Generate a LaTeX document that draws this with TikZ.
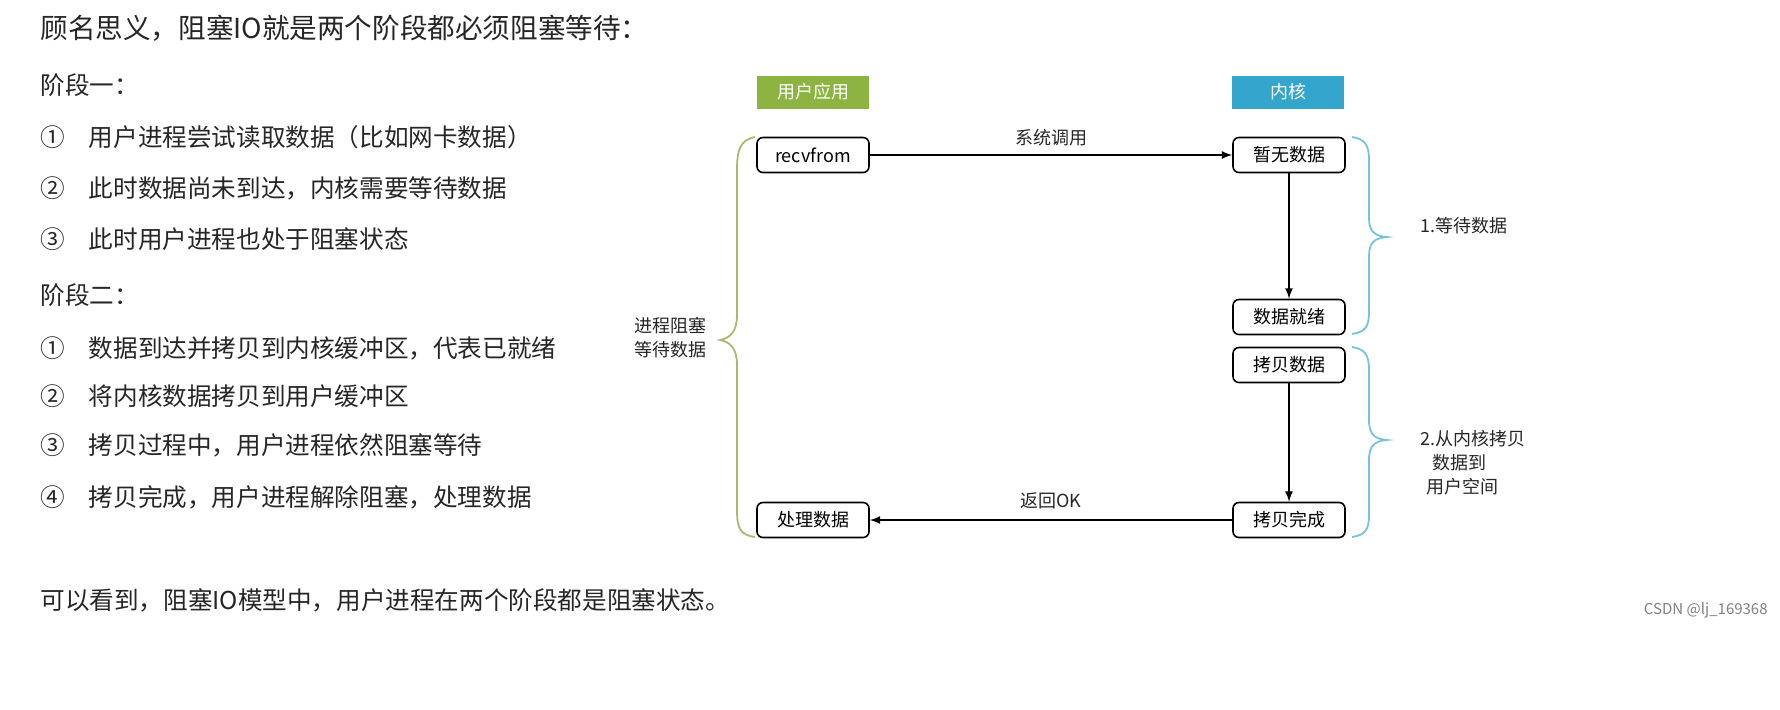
\documentclass[tikz,border=0pt]{standalone}
\usepackage{fontspec}
\setmainfont{Noto Sans CJK SC}
\begin{document}
\begin{tikzpicture}[x=0.5pt,y=-0.5pt,
 txt/.style={anchor=west,inner sep=0pt,font=\fontsize{12.3}{15}\selectfont,text=black!85},
 dtxt/.style={inner sep=0pt,font=\fontsize{9}{12}\selectfont,text=black!85},
 bx/.style={draw,rounded corners=3pt,line width=0.8pt,minimum width=56pt,minimum height=17.5pt,inner sep=0pt,font=\fontsize{9}{10}\selectfont},
 hd/.style={minimum width=56pt,minimum height=16.5pt,inner sep=0pt,text=white,font=\fontsize{9}{10}\selectfont},
 ar/.style={-latex,line width=0.8pt}]
\useasboundingbox (0,0) rectangle (1780,709);
\node[txt,font=\fontsize{13.8}{16}\selectfont] (t0) at (40,28) {顾名思义，阻塞IO就是两个阶段都必须阻塞等待：};
\node[txt] (p1) at (40,85) {阶段一：};
\node[txt] (a1) at (40,137) {①\hspace{12pt}用户进程尝试读取数据（比如网卡数据）};
\node[txt] (a2) at (40,188) {②\hspace{12pt}此时数据尚未到达，内核需要等待数据};
\node[txt] (a3) at (40,239) {③\hspace{12pt}此时用户进程也处于阻塞状态};
\node[txt] (p2) at (40,295) {阶段二：};
\node[txt] (b1) at (40,348) {①\hspace{12pt}数据到达并拷贝到内核缓冲区，代表已就绪};
\node[txt] (b2) at (40,396) {②\hspace{12pt}将内核数据拷贝到用户缓冲区};
\node[txt] (b3) at (40,445) {③\hspace{12pt}拷贝过程中，用户进程依然阻塞等待};
\node[txt] (b4) at (40,497) {④\hspace{12pt}拷贝完成，用户进程解除阻塞，处理数据};
\node[txt] (c0) at (40,600) {可以看到，阻塞IO模型中，用户进程在两个阶段都是阻塞状态。};
\node[anchor=east,inner sep=0pt,text=black!50,font=\fontsize{7.5}{9}\selectfont] (wm) at (1768,610) {CSDN @lj\_169368};
% headers
\node[hd,fill={rgb,255:red,141;green,180;blue,64}] (h1) at (813,92) {用户应用};
\node[hd,fill={rgb,255:red,52;green,166;blue,206}] (h2) at (1288,92) {内核};
% boxes
\node[bx] (r) at (813,155) {recvfrom};
\node[bx] (k1) at (1289,155) {暂无数据};
\node[bx] (k2) at (1289,317) {数据就绪};
\node[bx] (k3) at (1289,365) {拷贝数据};
\node[bx] (k4) at (1289,520) {拷贝完成};
\node[bx] (u) at (813,520) {处理数据};
\draw[ar] (r) -- node[dtxt,above=4pt] {系统调用} (k1);
\draw[ar] (k1) -- (k2);
\draw[ar] (k3) -- (k4);
\draw[ar] (k4) -- node[dtxt,above=5pt] {返回OK} (u);
% braces
\draw[line width=0.9pt,color={rgb,255:red,170;green,185;blue,110}] (755,137) .. controls (740,140) and (737,150) .. (737,170) -- (737,315) .. controls (737,332) and (730,338) .. (720,340) .. controls (730,342) and (737,348) .. (737,365) -- (737,510) .. controls (737,528) and (740,535) .. (755,537);
\node[dtxt,align=center] (lb) at (670,338) {进程阻塞\\等待数据};
\begin{scope}[line width=0.9pt,color={rgb,255:red,120;green,195;blue,220}]
\draw (1352,137) .. controls (1365,139) and (1369,145) .. (1369,160) -- (1369,218) .. controls (1369,232) and (1375,236) .. (1387,237) .. controls (1375,238) and (1369,242) .. (1369,256) -- (1369,312) .. controls (1369,327) and (1365,332) .. (1352,334);
\draw (1352,347) .. controls (1365,349) and (1369,355) .. (1369,370) -- (1369,420) .. controls (1369,435) and (1375,439) .. (1387,440) .. controls (1375,441) and (1369,445) .. (1369,460) -- (1369,515) .. controls (1369,530) and (1365,535) .. (1352,537);
\end{scope}
\node[dtxt,anchor=west] (l1) at (1420,226) {1.等待数据};
\node[dtxt,anchor=north west,align=left] (l2) at (1420,430) {2.从内核拷贝\\\hspace{6pt}数据到\\\hspace{3pt}用户空间};
\end{tikzpicture}
\end{document}
